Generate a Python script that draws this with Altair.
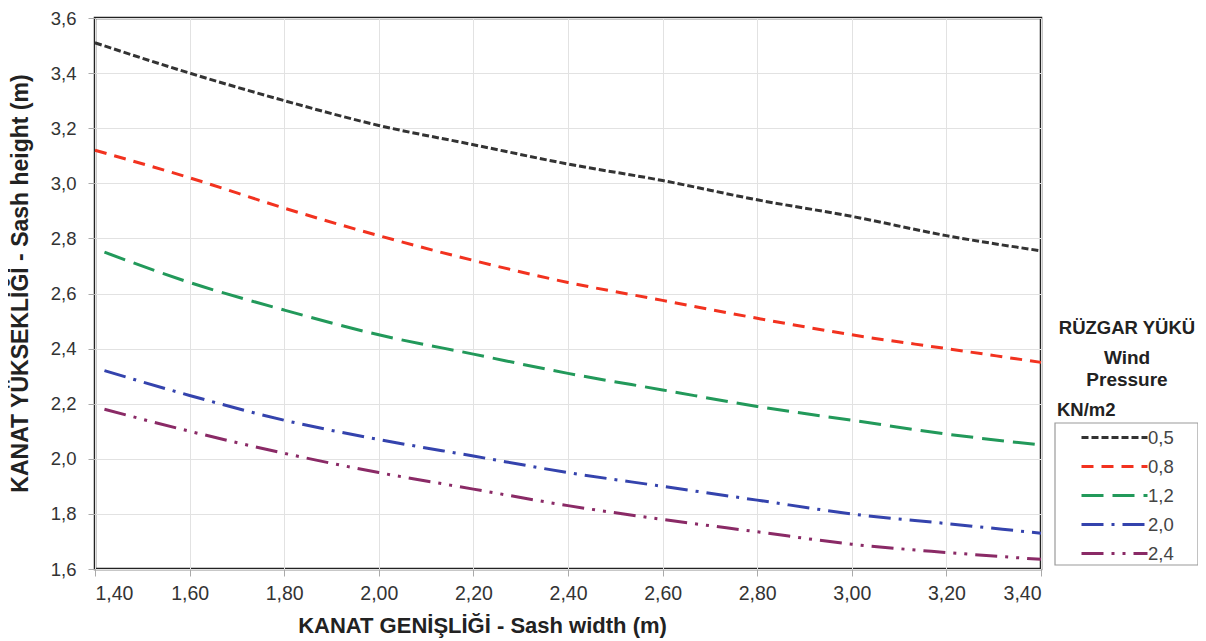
import altair as alt
import pandas as pd

# ---- data ----
widths = [1.40, 1.60, 1.80, 2.00, 2.20, 2.40, 2.60, 2.80, 3.00, 3.20, 3.40]
widths_late = [1.42, 1.60, 1.80, 2.00, 2.20, 2.40, 2.60, 2.80, 3.00, 3.20, 3.40]
height_ticks = [1.6, 1.8, 2.0, 2.2, 2.4, 2.6, 2.8, 3.0, 3.2, 3.4, 3.6]

pressures = ["0,5", "0,8", "1,2", "2,0", "2,4"]
h_05 = [3.51, 3.40, 3.30, 3.21, 3.14, 3.07, 3.01, 2.94, 2.88, 2.81, 2.755]
h_08 = [3.12, 3.02, 2.91, 2.81, 2.72, 2.64, 2.575, 2.51, 2.45, 2.40, 2.35]
h_12 = [2.75, 2.64, 2.54, 2.45, 2.38, 2.31, 2.25, 2.19, 2.14, 2.09, 2.05]
h_20 = [2.32, 2.23, 2.14, 2.07, 2.01, 1.95, 1.90, 1.85, 1.80, 1.765, 1.73]
h_24 = [2.18, 2.10, 2.02, 1.95, 1.89, 1.83, 1.78, 1.735, 1.69, 1.66, 1.635]

series_x = [widths, widths, widths_late, widths_late, widths_late]
series_y = [h_05, h_08, h_12, h_20, h_24]

colors = ["#333333", "#f2321f", "#22995a", "#3443ad", "#8a2a66"]
dashes = [[7, 3], [12, 8], [22, 9], [22, 8, 3, 8], [22, 8, 3, 8, 3, 8]]

legend_head = ["RÜZGAR YÜKÜ", "Wind", "Pressure"]
unit_label = "KN/m2"

rows = []
for p, xs, ys in zip(pressures, series_x, series_y):
    for x, y in zip(xs, ys):
        rows.append({"width": x, "height": y, "pressure": p})
df = pd.DataFrame(rows)

FONT = "Liberation Sans"

lines = alt.Chart(df).mark_line(strokeWidth=3, interpolate="monotone").encode(
    x=alt.X("width:Q",
            scale=alt.Scale(domain=[1.4, 3.4], nice=False, zero=False),
            axis=alt.Axis(values=widths,
                          labelExpr="replace(format(datum.value, '.2f'), '.', ',')",
                          labelPadding=8, labelFontSize=19.5,
                          title="KANAT GENİŞLİĞİ - Sash width (m)",
                          titleFontSize=22,
                          titleX=387, titleY=63, titleAlign="center",
                          titleBaseline="alphabetic")),
    y=alt.Y("height:Q",
            scale=alt.Scale(domain=[1.6, 3.6], nice=False, zero=False),
            axis=alt.Axis(values=height_ticks,
                          labelExpr="replace(format(datum.value, '.1f'), '.', ',')",
                          labelPadding=12, labelFontSize=18.5,
                          title="KANAT YÜKSEKLİĞİ -  Sash height (m)",
                          titleFontSize=23,
                          titleX=-75, titleY=265, titleAlign="center",
                          titleBaseline="middle", titleAngle=270)),
    color=alt.Color("pressure:N", sort=pressures,
                    scale=alt.Scale(domain=pressures, range=colors),
                    legend=alt.Legend(
                        orient="none", legendX=960, legendY=407,
                        title=None, symbolType="M-3,0H3", symbolSize=484,
                        symbolStrokeWidth=3, symbolOffset=47,
                        labelFontSize=18.5, labelFont=FONT, labelColor="#444444",
                        labelOffset=21, rowPadding=7, padding=0)),
    strokeDash=alt.StrokeDash("pressure:N", sort=pressures,
                              scale=alt.Scale(domain=pressures, range=dashes),
                              legend=None),
)

legend_box = alt.Chart(alt.Data(values=[{}])).mark_rect(
    fill="white", stroke="#9a9a9a", strokeWidth=1.2
).encode(x=alt.value(960), x2=alt.value(1103), y=alt.value(405), y2=alt.value(547))

def label(txt, x, y, size, align="center"):
    return alt.Chart(alt.Data(values=[{}])).mark_text(
        text=txt, font=FONT, fontSize=size, fontWeight="bold",
        align=align, baseline="middle", color="#222222"
    ).encode(x=alt.value(x), y=alt.value(y))

chart = alt.layer(
    legend_box,
    lines,
    label(legend_head[0], 1032, 310, 18.5),
    label(legend_head[1], 1032, 340, 19),
    label(legend_head[2], 1032, 362, 19),
    label(unit_label, 962, 392, 18.5, align="left"),
).properties(
    width=946, height=551,
    autosize=alt.AutoSizeParams(type="none"),
    padding={"left": 87, "top": 10, "right": 157, "bottom": 70},
    background="white",
).configure_view(
    stroke="#222222", strokeWidth=2.5
).configure_axis(
    domain=False, grid=True, gridColor="#e2e2e2", gridWidth=1,
    ticks=True, tickColor="#aaaaaa", tickSize=7,
    labelFont=FONT, labelColor="#333333",
    titleFont=FONT, titleFontWeight="bold", titleColor="#222222",
)

chart.save("out.html", embed_options={"renderer": "svg", "actions": False})
